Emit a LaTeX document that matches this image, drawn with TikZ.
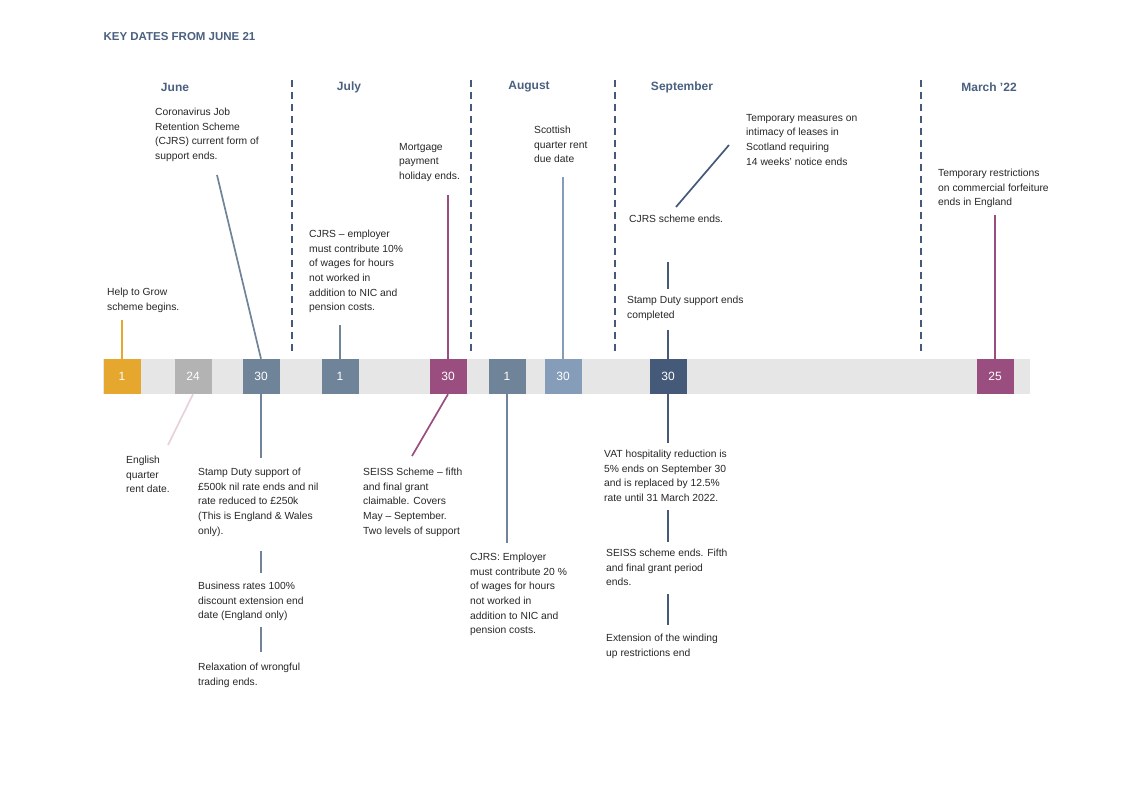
\documentclass[tikz,border=0pt]{standalone}
\usepackage{fontspec}
\setmainfont{Liberation Sans}
\usepackage{xcolor}
\definecolor{cjOrange}{HTML}{E5A72D}
\definecolor{cjGrey}{HTML}{B3B3B3}
\definecolor{cjSlate}{HTML}{708499}
\definecolor{cjPlum}{HTML}{9A4E80}
\definecolor{cjSky}{HTML}{859DB8}
\definecolor{cjNavy}{HTML}{455A78}
\definecolor{cjPink}{HTML}{E8D0DC}
\definecolor{cjHead}{HTML}{4A6080}
\definecolor{cjBar}{HTML}{E6E6E6}

\tikzset{
  evt/.style={anchor=north west,inner sep=0pt,align=left,text=black!85,
    font=\fontsize{10.3}{14.6}\selectfont},
  datebox/.style={minimum width=37pt,minimum height=35pt,inner sep=0pt,
    text=white,font=\fontsize{12}{14}\selectfont},
  month/.style={text=cjHead,font=\fontsize{12}{14}\selectfont\bfseries},
  sep/.style={cjNavy,line width=1.6pt,dash pattern=on 7pt off 5pt},
  link/.style={line width=1.7pt}
}

\begin{document}
\begin{tikzpicture}[x=1pt,y=-1pt]
    \useasboundingbox (0,0) rectangle (1121,791);
    \node[anchor=west,text=cjHead,font=\fontsize{11.5}{13}\selectfont\bfseries] (title) at (100,37) {KEY DATES FROM JUNE 21};

    % months and separators
    \node[month] (jun) at (175,87) {June};
    \node[month] (jul) at (349,87) {July};
    \node[month] (aug) at (529,87) {August};
    \node[month] (sep) at (682,87) {September};
    \node[month] (mar) at (989,87) {March '22};
    \foreach \x in {292,471,615,921}
        \draw[sep] (\x,80) -- (\x,355);

    % bar and dates
    \fill[cjBar] (103,359) rectangle (1030,394);
    \node[datebox,fill=cjOrange] (d1) at (122,376.5) {1};
    \node[datebox,fill=cjGrey] (d24) at (193,376.5) {24};
    \node[datebox,fill=cjSlate] (d30a) at (261,376.5) {30};
    \node[datebox,fill=cjSlate] (d1b) at (340,376.5) {1};
    \node[datebox,fill=cjPlum] (d30b) at (448,376.5) {30};
    \node[datebox,fill=cjSlate] (d1c) at (507,376.5) {1};
    \node[datebox,fill=cjSky] (d30c) at (563,376.5) {30};
    \node[datebox,fill=cjNavy] (d30d) at (668,376.5) {30};
    \node[datebox,fill=cjPlum] (d25) at (995,376.5) {25};

    % above the bar
    \node[evt] (grow) at (107,288) {Help to Grow\\scheme begins.};
    \node[evt] (cjrs) at (155,108) {Coronavirus Job\\Retention Scheme\\(CJRS) current form of\\support ends.};
    \node[evt] (ten) at (309,230) {CJRS -- employer\\must contribute 10\%\\of wages for hours\\not worked in\\addition to NIC and\\pension costs.};
    \node[evt] (mort) at (399,143) {Mortgage\\payment\\holiday ends.};
    \node[evt] (scot) at (534,126) {Scottish\\quarter rent\\due date};
    \node[evt] (lease) at (746,114) {Temporary measures on\\intimacy of leases in\\Scotland requiring\\14 weeks' notice ends};
    \node[evt] (cjend) at (629,215) {CJRS scheme ends.};
    \node[evt] (stamp) at (627,296) {Stamp Duty support ends\\completed};
    \node[evt] (forf) at (938,169) {Temporary restrictions\\on commercial forfeiture\\ends in England};

    \coordinate (cjrsEnd) at (217,175);
    \coordinate (leaseEnd) at (729,145);
    \coordinate (cjendTop) at (676,207);
    \draw[link,cjOrange] (122,320) -- (d1.north);
    \draw[link,cjSlate] (cjrsEnd) -- (d30a.north);
    \draw[link,cjSlate] (340,325) -- (d1b.north);
    \draw[link,cjPlum] (448,195) -- (d30b.north);
    \draw[link,cjSky] (563,177) -- (d30c.north);
    \draw[link,cjNavy] (leaseEnd) -- (cjendTop);
    \draw[link,cjNavy] (668,262) -- (668,289);
    \draw[link,cjNavy] (668,330) -- (d30d.north);
    \draw[link,cjPlum] (995,215) -- (d25.north);

    % below the bar
    \node[evt] (engl) at (126,456) {English\\quarter\\rent date.};
    \node[evt] (sduty) at (198,468) {Stamp Duty support of\\£500k nil rate ends and nil\\rate reduced to £250k\\(This is England \& Wales\\only).};
    \node[evt] (rates) at (198,582) {Business rates 100\%\\discount extension end\\date (England only)};
    \node[evt] (wrong) at (198,663) {Relaxation of wrongful\\trading ends.};
    \node[evt] (seiss) at (363,468) {SEISS Scheme -- fifth\\and final grant\\claimable. Covers\\May -- September.\\Two levels of support};
    \node[evt] (twenty) at (470,553) {CJRS: Employer\\must contribute 20 \%\\of wages for hours\\not worked in\\addition to NIC and\\pension costs.};
    \node[evt] (vat) at (604,450) {VAT hospitality reduction is\\5\% ends on September 30\\and is replaced by 12.5\%\\rate until 31 March 2022.};
    \node[evt] (seend) at (606,549) {SEISS scheme ends. Fifth\\and final grant period\\ends.};
    \node[evt] (wind) at (606,634) {Extension of the winding\\up restrictions end};

    \draw[link,cjPink] (d24.south) -- (168,445);
    \draw[link,cjSlate] (d30a.south) -- (261,458);
    \draw[link,cjSlate] (261,551) -- (261,573);
    \draw[link,cjSlate] (261,627) -- (261,652);
    \draw[link,cjPlum] (d30b.south) -- (412,456);
    \draw[link,cjSlate] (d1c.south) -- (507,543);
    \draw[link,cjNavy] (d30d.south) -- (668,443);
    \draw[link,cjNavy] (668,510) -- (668,542);
    \draw[link,cjNavy] (668,594) -- (668,625);
\end{tikzpicture}
\end{document}
